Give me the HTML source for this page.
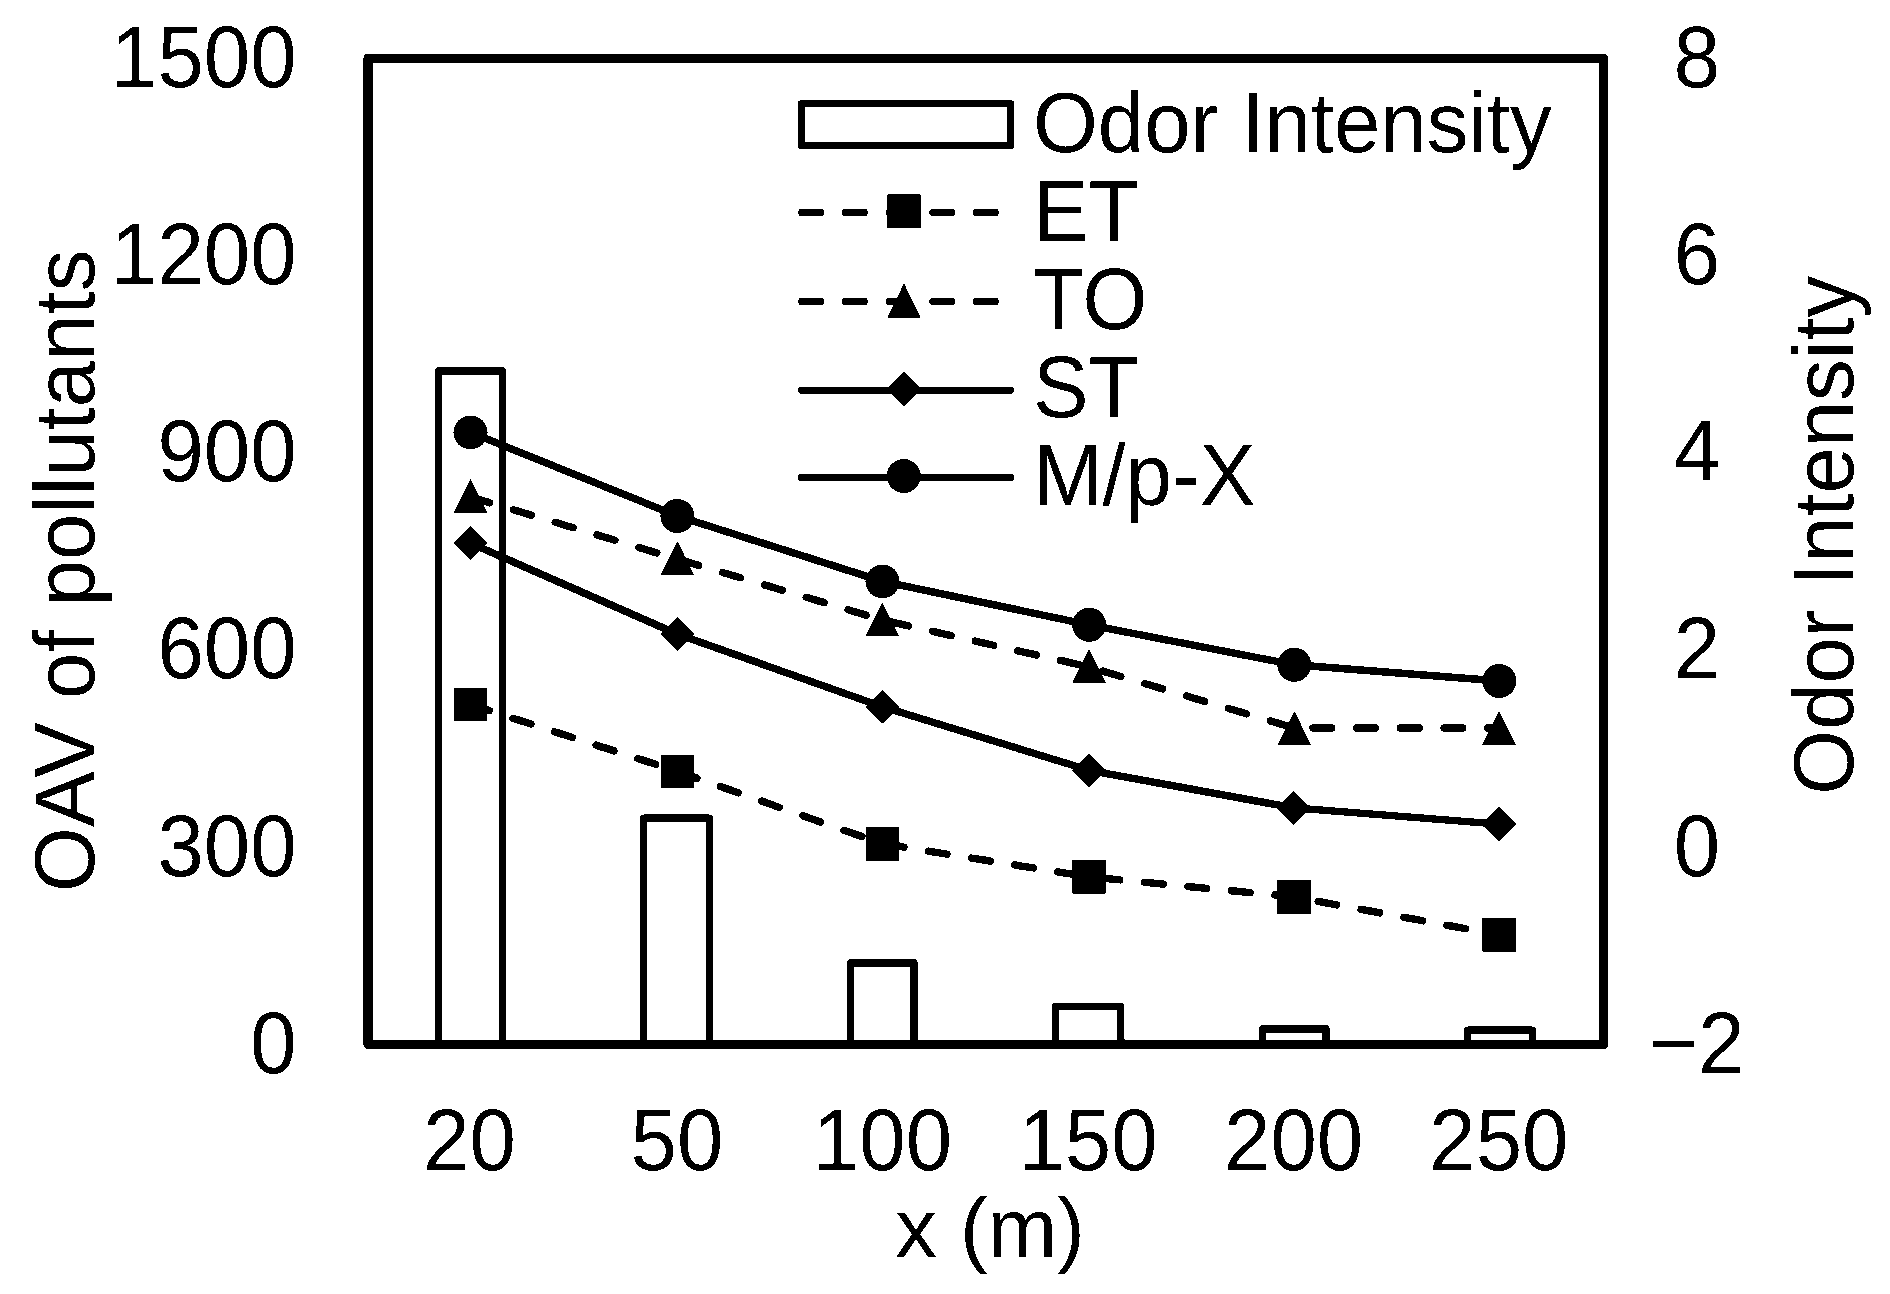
<!DOCTYPE html>
<html lang="en">
<head>
<meta charset="utf-8">
<title>OAV of pollutants and Odor Intensity vs x (m)</title>
<style>
html,body{margin:0;padding:0;background:#fff;}
body{width:1890px;height:1294px;overflow:hidden;}
svg{display:block;}
svg text{font-family:"Liberation Sans",sans-serif;font-size:83.33px;fill:#000;}
.ln{fill:none;stroke:#000;stroke-width:7.4;stroke-linecap:round;stroke-linejoin:round;}
.ds{stroke-dasharray:18.8 24.88;stroke-dashoffset:-1;}
.bar{fill:#fff;stroke:#000;stroke-width:7.2;stroke-linejoin:round;}
.frame{fill:none;stroke:#000;stroke-width:9.3;stroke-linejoin:round;}
.mk{fill:#000;stroke:none;}
.c{text-anchor:middle;}
.r{text-anchor:end;}
</style>
</head>
<body>
<svg width="1890" height="1294" viewBox="0 0 1890 1294">
<defs><filter id="bw" x="0" y="0" width="100%" height="100%" filterUnits="objectBoundingBox" color-interpolation-filters="sRGB"><feComponentTransfer><feFuncR type="discrete" tableValues="0 1"/><feFuncG type="discrete" tableValues="0 1"/><feFuncB type="discrete" tableValues="0 1"/></feComponentTransfer></filter></defs>
<g filter="url(#bw)">
<rect x="0" y="0" width="1890" height="1294" fill="#fff"/>
<g class="bar">
<path d="M438.5,1044.5 V370.8 H502.4 V1044.5"/>
<path d="M643.5,1044.5 V818 H709.5 V1044.5"/>
<path d="M850.4,1044.5 V962.8 H914.1 V1044.5"/>
<path d="M1055.6,1044.5 V1006.4 H1120.8 V1044.5"/>
<path d="M1262.5,1044.5 V1028.8 H1326.1 V1044.5"/>
<path d="M1467.4,1044.5 V1030.1 H1532.7 V1044.5"/>
</g>
<rect class="frame" x="368" y="58.4" width="1235.7" height="986.1"/>
<polyline class="ln ds" points="470.5,704.5 677.5,771.4 882.5,843.8 1089,876.8 1294,896.9 1499.1,934.9"/>
<polyline class="ln ds" points="470.5,496.9 677.3,559 882.3,619.9 1089.1,667 1294.3,728 1499,728"/>
<polyline class="ln" points="470.5,543.1 677.1,634 882.3,706.7 1089.1,770.3 1293.9,807.9 1499,824.1"/>
<polyline class="ln" points="470.5,432.4 677.4,516 882.5,581.4 1089.2,624.8 1294.3,664.8 1499.3,681"/>
<g class="mk">
<rect x="453.7" y="687.7" width="33.6" height="33.6"/>
<rect x="660.7" y="754.6" width="33.6" height="33.6"/>
<rect x="865.7" y="827.0" width="33.6" height="33.6"/>
<rect x="1072.2" y="860.0" width="33.6" height="33.6"/>
<rect x="1277.2" y="880.1" width="33.6" height="33.6"/>
<rect x="1482.3" y="918.1" width="33.6" height="33.6"/>
<polygon points="470.5,478.9 487.3,512.9 453.7,512.9"/>
<polygon points="677.3,541 694.1,575 660.5,575"/>
<polygon points="882.3,602.2 899.1,636.2 865.5,636.2"/>
<polygon points="1089.1,648.8 1105.9,682.8 1072.3,682.8"/>
<polygon points="1294.3,711 1311.1,745 1277.5,745"/>
<polygon points="1499,711 1515.8,745 1482.2,745"/>
<polygon points="470.5,526.1 487.5,543.1 470.5,560.1 453.5,543.1"/>
<polygon points="677.1,617 694.1,634 677.1,651 660.1,634"/>
<polygon points="882.3,689.7 899.3,706.7 882.3,723.7 865.3,706.7"/>
<polygon points="1089.1,753.3 1106.1,770.3 1089.1,787.3 1072.1,770.3"/>
<polygon points="1293.9,790.9 1310.9,807.9 1293.9,824.9 1276.9,807.9"/>
<polygon points="1499,807.1 1516,824.1 1499,841.1 1482,824.1"/>
<circle cx="470.5" cy="432.4" r="17"/>
<circle cx="677.4" cy="516" r="17"/>
<circle cx="882.5" cy="581.4" r="17"/>
<circle cx="1089.2" cy="624.8" r="17"/>
<circle cx="1294.3" cy="664.8" r="17"/>
<circle cx="1499.3" cy="681" r="17"/>
</g>
<rect class="bar" x="801.5" y="103.5" width="209.0" height="41.9"/>
<line class="ln ds" style="stroke-dashoffset:-0.3;stroke-width:7.2" x1="801.5" y1="212.4" x2="1010.5" y2="212.4"/>
<line class="ln ds" style="stroke-dashoffset:-0.3;stroke-width:7.2" x1="801.5" y1="301.4" x2="1010.5" y2="301.4"/>
<line class="ln" style="stroke-width:7.2" x1="801.5" y1="390.3" x2="1010.5" y2="390.3"/>
<line class="ln" style="stroke-width:7.2" x1="801.5" y1="477.4" x2="1010.5" y2="477.4"/>
<g class="mk"><rect x="887.2" y="194.5" width="33.6" height="33.6"/><polygon points="904,283.5 920.8,317.5 887.2,317.5"/><polygon points="904,372 921,389 904,406 887,389"/><circle cx="903.7" cy="476.1" r="17"/></g>
<text transform="translate(1033,151.7) scale(1,1.02)">Odor Intensity</text>
<text transform="translate(1033,240.6) scale(1,1.045)">ET</text>
<text transform="translate(1033,329) scale(1,1.045)">TO</text>
<text transform="translate(1033,416.5) scale(1,1.045)">ST</text>
<text transform="translate(1033,504.7) scale(1,1.045)">M/p-X</text>
<text class="r" transform="translate(296.5,86.9) scale(1,1.045)">1500</text>
<text class="r" transform="translate(296.5,284.05) scale(1,1.045)">1200</text>
<text class="r" transform="translate(296.5,481.2) scale(1,1.045)">900</text>
<text class="r" transform="translate(296.5,678.35) scale(1,1.045)">600</text>
<text class="r" transform="translate(296.5,875.5) scale(1,1.045)">300</text>
<text class="r" transform="translate(296.5,1072.65) scale(1,1.045)">0</text>
<text class="c" transform="translate(1697,86.9) scale(1,1.045)">8</text>
<text class="c" transform="translate(1697,284.05) scale(1,1.045)">6</text>
<text class="c" transform="translate(1697,481.2) scale(1,1.045)">4</text>
<text class="c" transform="translate(1697,678.35) scale(1,1.045)">2</text>
<text class="c" transform="translate(1697,875.5) scale(1,1.045)">0</text>
<text class="c" transform="translate(1697,1072.65) scale(1,1.045)">−2</text>
<text class="c" transform="translate(469.6,1170.1) scale(1,1.045)">20</text>
<text class="c" transform="translate(676.9,1170.1) scale(1,1.045)">50</text>
<text class="c" transform="translate(882.5,1170.1) scale(1,1.045)">100</text>
<text class="c" transform="translate(1088,1170.1) scale(1,1.045)">150</text>
<text class="c" transform="translate(1293.6,1170.1) scale(1,1.045)">200</text>
<text class="c" transform="translate(1498.8,1170.1) scale(1,1.045)">250</text>
<text class="c" x="990" y="1256.7">x (m)</text>
<text class="c" transform="translate(94,570.8) rotate(-90) scale(1,1.02)">OAV of pollutants</text>
<text class="c" transform="translate(1852.8,535.3) rotate(-90) scale(1,1.02)">Odor Intensity</text>
</g>
</svg>
</body>
</html>
